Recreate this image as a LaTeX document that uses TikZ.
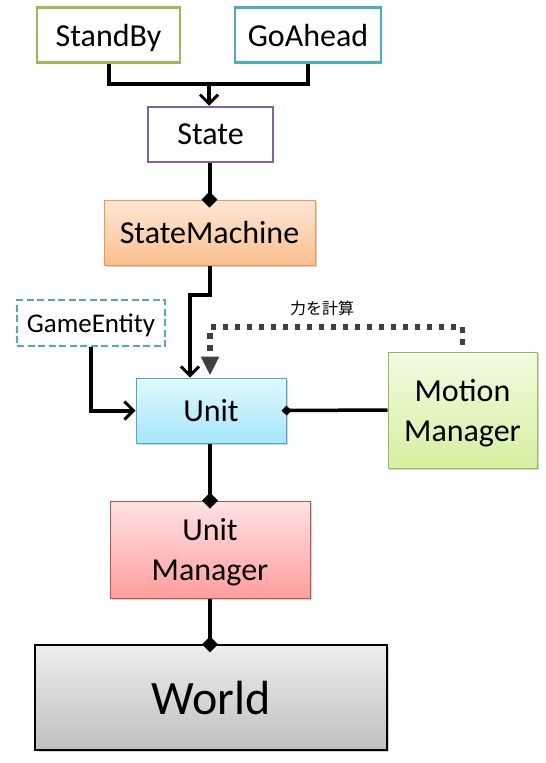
\documentclass[tikz,border=0pt]{standalone}
\usepackage{fontspec}
\setmainfont{Carlito}
\newfontfamily\jpfont{Noto Sans CJK JP}
\usetikzlibrary{arrows.meta,shadows}
\definecolor{cgreen}{HTML}{9BBB59}
\definecolor{cblue}{HTML}{4BACC6}
\definecolor{cpurple}{HTML}{8064A2}
\definecolor{corange}{HTML}{F79646}
\definecolor{cred}{HTML}{C0504D}
\definecolor{smtop}{HTML}{FDE7D6}
\definecolor{smbot}{HTML}{FBBF8D}
\definecolor{untop}{HTML}{E2F8FE}
\definecolor{unbot}{HTML}{A5E6FA}
\definecolor{mmtop}{HTML}{F2FCE3}
\definecolor{mmbot}{HTML}{D5EF9F}
\definecolor{umtop}{HTML}{FFE3E3}
\definecolor{umbot}{HTML}{FF9D9D}
\definecolor{wtop}{HTML}{EEEEEE}
\definecolor{wbot}{HTML}{BFBFBF}
\definecolor{dotgray}{HTML}{404040}
\tikzset{
  box/.style={rectangle, inner sep=0pt, align=center, text depth=0pt,
    font=\fontsize{32}{40}\selectfont},
  plainbox/.style={box, draw, line width=2.5pt, fill=white},
  gradbox/.style={box, draw, line width=1pt,
    drop shadow={shadow xshift=2pt, shadow yshift=-2pt, opacity=0.35}},
  conn/.style={line width=4pt, black},
  openarrow/.style={-{Straight Barb[length=9pt, width=18pt, line width=3pt]}},
  diamondend/.style={-{Diamond[length=16pt, width=16pt]}, shorten >=-8pt},
  dotline/.style={line width=5.5pt, dotgray, dash pattern=on 5.5pt off 6.5pt},
}
\begin{document}
\begin{tikzpicture}[x=1pt, y=-1pt]
\useasboundingbox (0,0) rectangle (546,763);

% nodes
\node[plainbox, draw=cgreen, minimum width=143pt, minimum height=55pt] (standby) at (108.5,35) {StandBy};
\node[plainbox, draw=cblue, minimum width=146pt, minimum height=55pt] (goahead) at (308,35) {GoAhead};
\node[plainbox, draw=cpurple, minimum width=125pt, minimum height=55pt] (state) at (210.5,134.5) {State};
\node[gradbox, draw=corange, top color=smtop, bottom color=smbot, minimum width=211pt, minimum height=65pt] (sm) at (209.5,232.5) {StateMachine};
\node[box, draw=cblue, line width=2pt, dashed, dash pattern=on 7pt off 3.5pt, fill=white, minimum width=148pt, minimum height=46pt, font=\fontsize{27}{30}\selectfont] (ge) at (91,323) {GameEntity};
\node[gradbox, draw=cblue, top color=untop, bottom color=unbot, minimum width=150pt, minimum height=65pt] (unit) at (211,410.5) {Unit};
\node[gradbox, draw=cgreen, top color=mmtop, bottom color=mmbot, minimum width=149pt, minimum height=116pt] (mm) at (462.5,410) {Motion\\Manager};
\node[gradbox, draw=cred, top color=umtop, bottom color=umbot, minimum width=200pt, minimum height=97pt] (um) at (210,549.5) {Unit\\Manager};
\node[gradbox, draw=black, line width=1.5pt, top color=wtop, bottom color=wbot, minimum width=352pt, minimum height=105pt, font=\fontsize{48}{50}\selectfont] (world) at (211,697.5) {World};

\node[font=\jpfont\fontsize{16}{18}\selectfont] (lbl) at (322,308) {力を計算};

% helper coordinates
\coordinate (j) at (209,84);
\coordinate (k) at (190,295);
\coordinate (d) at (210,327);

% connectors
\draw[conn] (standby.south) |- (j) -| (goahead.south);
\draw[conn, openarrow] (j) -- (state.north -| j);
\draw[conn, diamondend] (state.south -| sm.north) -- (sm.north);
\draw[conn, openarrow] (sm.south) |- (k) -- (k |- unit.north);
\draw[conn, openarrow] (ge.south) |- (unit.west);
\draw[line width=3.5pt, -{Diamond[length=10pt, width=10pt]}, shorten >=-5pt] (mm.west) -- (unit.east);
\draw[dotline, shorten <=7pt, shorten >=2pt, -{Triangle[length=19pt, width=17pt]}] (mm.north) |- (d) -- (d |- unit.north);
\draw[conn, diamondend] (unit.south -| um.north) -- (um.north);
\draw[conn, diamondend] (um.south) -- (um.south |- world.north);
\end{tikzpicture}
\end{document}
